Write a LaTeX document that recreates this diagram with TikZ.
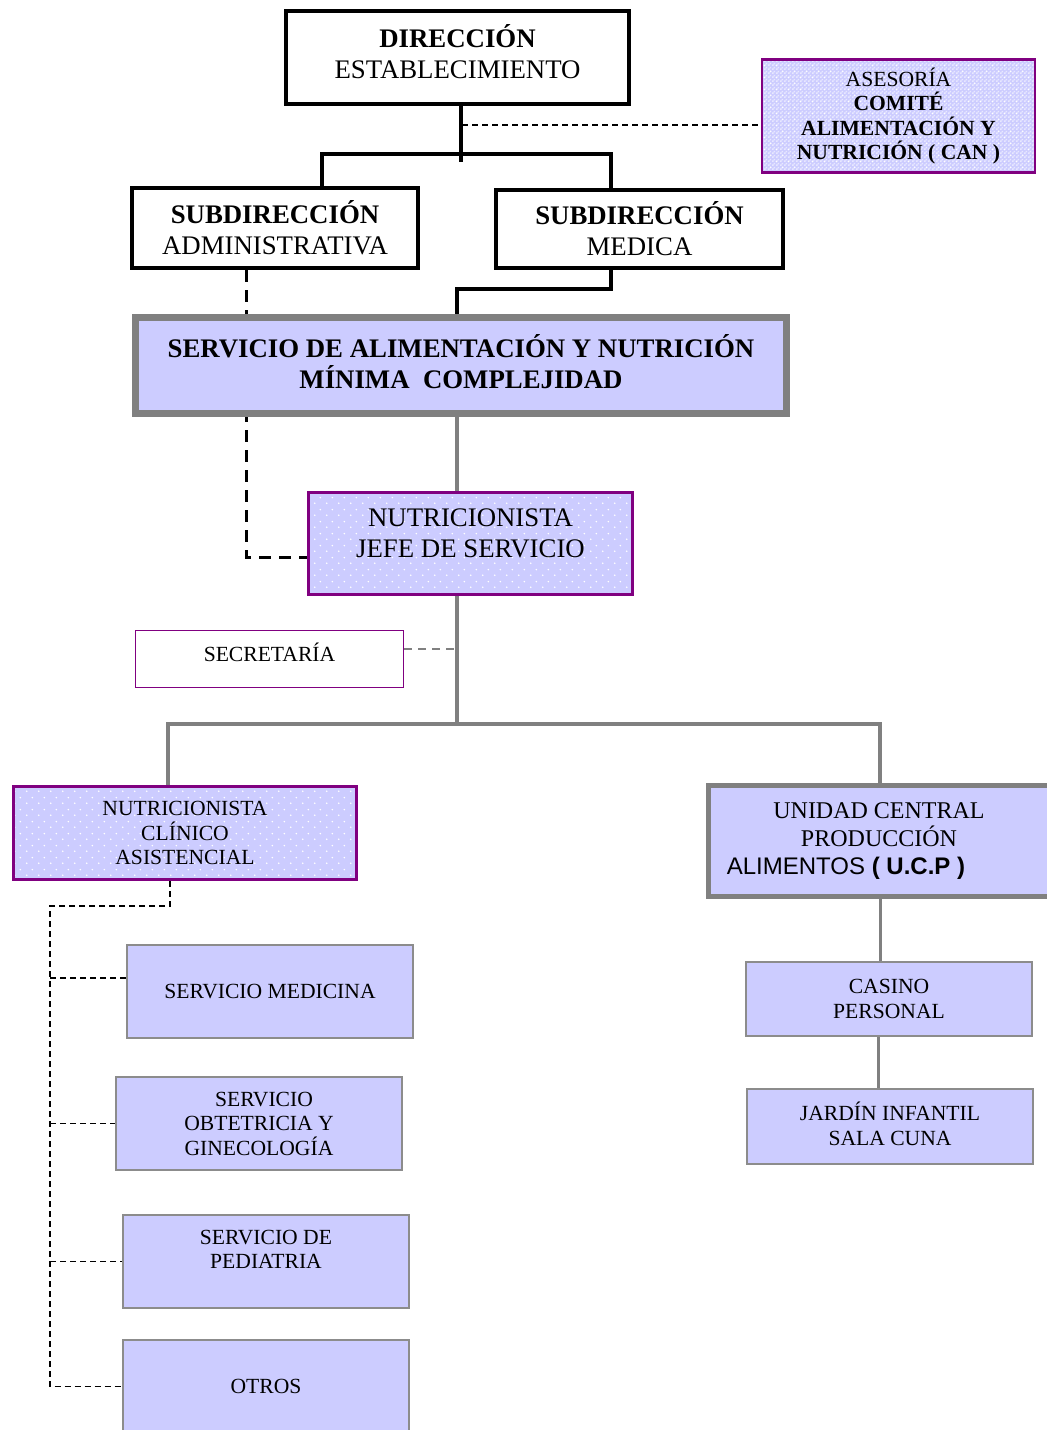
\documentclass[tikz,border=0pt]{standalone}
\usepackage{fontspec}
\setmainfont{Liberation Serif}
\newfontfamily\arialfont{Liberation Sans}
\usetikzlibrary{patterns.meta,backgrounds}

\definecolor{lav}{HTML}{CCCCFF}
\definecolor{purp}{HTML}{800080}
\definecolor{linegray}{HTML}{808080}
\definecolor{edgegray}{HTML}{8C8C8C}

\newcommand\fsbig{\fontsize{26.8}{31}\selectfont}
\newcommand\fsmid{\fontsize{24}{28}\selectfont}
\newcommand\fssmall{\fontsize{21.6}{24.5}\selectfont}

% sparse white dots for the purple boxes
\pgfdeclarepattern{
  name=sparsedots, type=uncolored,
  bottom left={\pgfpoint{0pt}{0pt}}, top right={\pgfpoint{12pt}{12pt}},
  tile size={\pgfpoint{12pt}{12pt}},
  code={
    \pgfpathcircle{\pgfpoint{3pt}{3pt}}{0.9pt}
    \pgfpathcircle{\pgfpoint{9pt}{9pt}}{0.9pt}
    \pgfusepath{fill}
  }
}
% finer grain for the advisory box
\pgfdeclarepattern{
  name=finegrain, type=uncolored,
  bottom left={\pgfpoint{0pt}{0pt}}, top right={\pgfpoint{4pt}{4pt}},
  tile size={\pgfpoint{4pt}{4pt}},
  code={
    \pgfpathrectangle{\pgfpoint{0pt}{0pt}}{\pgfpoint{2pt}{2pt}}
    \pgfpathrectangle{\pgfpoint{2pt}{2pt}}{\pgfpoint{2pt}{2pt}}
    \pgfusepath{fill}
  }
}

\begin{document}
\begin{tikzpicture}[x=1pt,y=-1pt,
  box/.style={rectangle, inner sep=0pt, align=center},
  blackbox/.style={box, draw=black, line width=4pt, fill=white, font=\fsbig},
  sanbox/.style={box, draw=linegray, line width=7pt, fill=lav, font=\fsbig},
  dotbox/.style={box, draw=purp, preaction={fill=lav},
    preaction={pattern={sparsedots}, pattern color=white}},
  grainbox/.style={box, draw=purp, preaction={fill=lav},
    preaction={pattern={finegrain}, pattern color=white!55!lav},
    preaction={pattern={sparsedots}, pattern color=white}},
  lavbox/.style={box, draw=edgegray, line width=2pt, fill=lav, font=\fssmall,
    minimum width=286pt, minimum height=93pt},
  thickblack/.style={line width=4pt, black},
  thickdash/.style={line width=3pt, black, dash pattern=on 12pt off 8pt},
  thindash/.style={line width=1.6pt, black, dash pattern=on 6pt off 4pt},
  graylink/.style={line width=4.5pt, linegray},
  thingray/.style={line width=3pt, linegray},
  graydash/.style={line width=2pt, linegray, dash pattern=on 8pt off 6pt}
]
\useasboundingbox (0,0) rectangle (1047,1430);

% ---- boxes ----
\node[blackbox, minimum width=343pt, minimum height=93pt, text depth=11pt] (dir) at (457.5,57.5)
  {\textbf{DIRECCIÓN}\\ESTABLECIMIENTO};
\node[grainbox, line width=2.5pt, minimum width=273pt, minimum height=113pt, font=\fssmall] (ase) at (898.5,116)
  {ASESORÍA\\\textbf{COMITÉ}\\\textbf{ALIMENTACIÓN Y}\\\textbf{NUTRICIÓN ( CAN )}};
\node[blackbox, minimum width=286pt, minimum height=80pt] (adm) at (275,228)
  {\textbf{SUBDIRECCIÓN}\\ADMINISTRATIVA};
\node[blackbox, minimum width=287pt, minimum height=78pt] (med) at (639.5,229)
  {\textbf{SUBDIRECCIÓN}\\MEDICA};
\node[sanbox, minimum width=651pt, minimum height=96pt, text depth=8pt] (san) at (461,365.5)
  {\textbf{SERVICIO DE ALIMENTACIÓN Y NUTRICIÓN}\\\textbf{MÍNIMA\ \ COMPLEJIDAD}};
\node[dotbox, line width=3pt, minimum width=324pt, minimum height=102pt, font=\fsbig, text depth=20pt] (njs) at (470.5,543.5)
  {NUTRICIONISTA\\JEFE DE SERVICIO};
\node[box, draw=purp, line width=1.5pt, fill=white, minimum width=268pt, minimum height=57pt, font=\fssmall, text depth=13pt] (sec) at (269.5,659)
  {SECRETARÍA};
\node[dotbox, line width=3pt, minimum width=343pt, minimum height=93pt, font=\fssmall] (nca) at (185,833)
  {NUTRICIONISTA\\CLÍNICO\\ASISTENCIAL};
\node[box, draw=linegray, line width=5pt, fill=lav, minimum width=341pt, minimum height=111pt, font=\fsmid] (ucp) at (879,841)
  {UNIDAD CENTRAL\\PRODUCCIÓN\\{\arialfont ALIMENTOS \textbf{( U.C.P )}}\hspace*{66pt}};
\node[lavbox, minimum height=74pt] (cas) at (889,999) {CASINO\\PERSONAL};
\node[lavbox, minimum height=75pt, text depth=6pt] (jar) at (890,1126.5) {JARDÍN INFANTIL\\SALA CUNA};
\node[lavbox] (medi) at (270,991.5) {SERVICIO MEDICINA};
\node[lavbox] (obs) at (259,1123.5) {\hspace*{10pt}SERVICIO\\OBTETRICIA Y\\GINECOLOGÍA};
\node[lavbox] (ped) at (266,1261.5) {SERVICIO DE\\PEDIATRIA\\~};
\node[lavbox] (otr) at (266,1386.5) {OTROS};

% ---- connectors ----
\begin{scope}[on background layer]
  \coordinate (jd) at (461,154);
  \coordinate (ja) at (322,154);
  \coordinate (jm) at (611,154);
  \draw[thickblack] (dir.south -| jd) -- ([yshift=-8pt]jd);
  \draw[thickblack] (adm.north -| ja) -- (ja) -- (jm) -- (med.north -| jm);

  \coordinate (ak) at (462,125);
  \draw[thindash] (ak) -- (ase.west |- ak);

  \coordinate (m1) at (611,289);
  \coordinate (m2) at (457,289);
  \draw[thickblack] (med.south -| m1) -- (m1) -- (m2) -- (san.north -| m2);

  \coordinate (a2) at (246,557);
  \draw[thickdash] (adm.south -| a2) -- (a2) -- (njs.west |- a2);

  \coordinate (jn) at (457,724);
  \coordinate (jl) at (168,724);
  \coordinate (jr) at (880,724);
  \draw[graylink] (san.south -| jn) -- (njs.north -| jn);
  \draw[graylink] (njs.south -| jn) -- (jn);
  \draw[graylink] (nca.north -| jl) -- (jl) -- (jr) -- (ucp.north -| jr);

  \coordinate (s1) at (457,649);
  \draw[graydash] (sec.east |- s1) -- (s1);

  \coordinate (c0) at (170,906);
  \coordinate (c1) at (50,906);
  \coordinate (c2) at (50,1386.5);
  \coordinate (b1) at (50,978);
  \draw[thindash] (nca.south -| c0) -- (c0) -- (c1) -- (c2) -- (otr.west);
  \draw[thindash] (b1) -- (medi.west |- b1);
  \draw[thindash] (c1 |- obs.west) -- (obs.west);
  \draw[thindash] (c1 |- ped.west) -- (ped.west);

  \coordinate (u1) at (880,930);
  \coordinate (u2) at (878,1060);
  \draw[thingray] (ucp.south -| u1) -- (cas.north -| u1);
  \draw[thingray] (cas.south -| u2) -- (jar.north -| u2);
\end{scope}
\end{tikzpicture}
\end{document}
